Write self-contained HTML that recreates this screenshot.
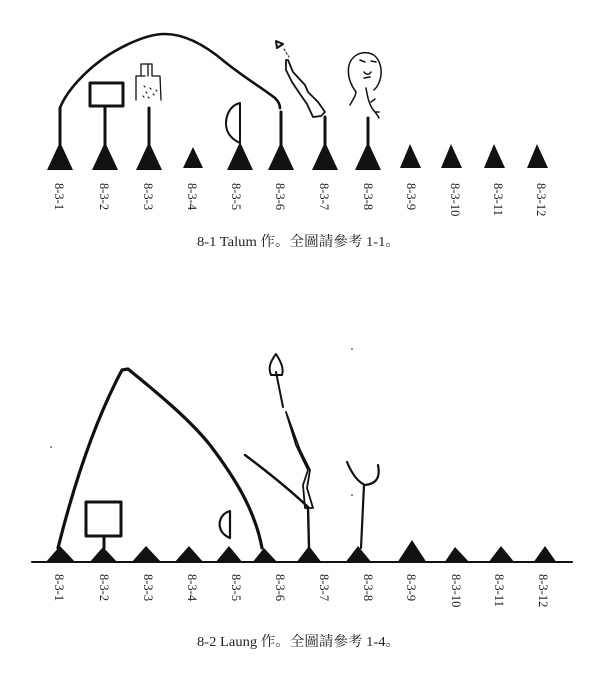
<!DOCTYPE html>
<html><head><meta charset="utf-8"><style>
html,body{margin:0;padding:0;background:#fff;}
svg{display:block;}
text{font-family:"Liberation Serif","Noto Serif CJK SC",serif;fill:#222;}
</style></head><body>
<svg width="600" height="684" viewBox="0 0 600 684" xmlns="http://www.w3.org/2000/svg">
<g fill="none" stroke="#111" stroke-linecap="round" stroke-linejoin="round">
 <path d="M60 108 C66 92 85 70 110 54 C130 42 150 34 165 34 C185 34 205 45 225 62 C245 78 262 88 275 98 C279 102 280 105 280 108" stroke-width="2.6"/>
 <path d="M60 108 L60 146 M105 106 L105 146 M149 108 L149 146 M281 112 L281 146 M325 117 L325 146 M368 118 L368 146" stroke-width="3"/>
 <rect x="90" y="83" width="33" height="23" stroke-width="3"/>
 <path d="M136 100 L136 76 L145 76 M141 76 L141 64 L152 64 L152 76 L160 76 L161 100 M148 64 L148 76" stroke-width="1.3"/>
 <g stroke-width="1.2"><path d="M144 86 l1 1 M150 88 l1 1 M146 92 l1 1 M153 94 l1 1 M148 97 l1 1 M156 90 l1 1 M143 96 l1 1"/></g>
 <path d="M240 103 C228 106 224 120 227 130 C230 138 236 141 240 143 Z" stroke-width="2"/>
 <path d="M276 41 L283 44 L277 48 Z" stroke-width="2"/>
 <path d="M284 49 L289 57" stroke-width="1" stroke-dasharray="2 2"/>
 <path d="M288 60 L293 72 L305 85 L308 92 L318 102 L325 112 L321 116 L313 117 L307 104 L300 94 L292 82 L286 70 L286 60 Z" stroke-width="1.8"/>
 <path d="M356 92 C350 84 347 75 349 65 C352 55 362 50 372 54 C380 58 383 70 380 80 C378 86 376 88 374 90 M356 92 L355 96 L350 105 M360 60 l5 2 M371 61 l5 1 M364 72 c2 3 5 3 7 0 M364 78 l6 -1" stroke-width="1.5"/>
 <path d="M366 88 C367 94 368 100 370 104 C372 110 376 112 379 118 M371 102 l4 -3 M375 112 l4 0" stroke-width="1.5"/>

 <path d="M32 562 L572 562" stroke-width="2"/>
 <path d="M58 548 C70 500 90 430 122 370 L128 369 C160 395 190 420 210 445 C235 478 255 510 262 548" stroke-width="3.2"/>
 <rect x="86" y="502" width="35" height="34" stroke-width="3"/>
 <path d="M104 536 L104 548" stroke-width="3"/>
 <path d="M230 511 C220 514 217 524 222 532 C225 536 228 537 230 538 Z" stroke-width="2.2"/>
 <path d="M245 455 C265 470 290 490 308 507 L309 548" stroke-width="2.4"/>
 <path d="M271 375 C268 368 270 362 276 354 C281 362 284 368 282 375 Z M276 372 L283 407" stroke-width="2"/>
 <path d="M286 412 L300 450 L310 470 L307 488 L313 508 L305 508 L303 485 L308 470 L296 445 Z" stroke-width="1.8"/>
 <path d="M347 462 C352 474 358 482 365 485 C374 484 381 480 378 465 M364 485 L361 548" stroke-width="2.2"/>
</g>
<g fill="#111">
 <path d="M47 170 L60 142 L73 170 Z"/>
 <path d="M92 170 L105 142 L118 170 Z"/>
 <path d="M136 170 L149 142 L162 170 Z"/>
 <path d="M183 168 L193 147 L203 168 Z"/>
 <path d="M227 170 L240 142 L253 170 Z"/>
 <path d="M268 170 L281 142 L294 170 Z"/>
 <path d="M312 170 L325 142 L338 170 Z"/>
 <path d="M355 170 L368 142 L381 170 Z"/>
 <path d="M400 168 L410 144 L421 168 Z"/>
 <path d="M441 168 L451 144 L462 168 Z"/>
 <path d="M484 168 L494 144 L505 168 Z"/>
 <path d="M527 168 L537 144 L548 168 Z"/>
 <path d="M45 563 L60 546 L76 563 Z"/>
 <path d="M89 563 L103 547 L118 563 Z"/>
 <path d="M131 563 L146 546 L162 563 Z"/>
 <path d="M174 563 L189 546 L204 563 Z"/>
 <path d="M215 563 L229 546 L243 563 Z"/>
 <path d="M252 563 L264 548 L278 563 Z"/>
 <path d="M296 563 L309 546 L322 563 Z"/>
 <path d="M345 563 L358 546 L372 563 Z"/>
 <path d="M397 563 L412 540 L427 563 Z"/>
 <path d="M444 563 L455 547 L470 563 Z"/>
 <path d="M488 563 L501 546 L515 563 Z"/>
 <path d="M533 563 L545 546 L557 563 Z"/>
 <circle cx="352" cy="349" r="0.8"/><circle cx="51" cy="447" r="0.8"/><circle cx="352" cy="495" r="0.8"/>
</g>
<g font-size="12.5">
 <text transform="translate(55,183) rotate(90)">8-3-1</text>
 <text transform="translate(100,183) rotate(90)">8-3-2</text>
 <text transform="translate(144,183) rotate(90)">8-3-3</text>
 <text transform="translate(188,183) rotate(90)">8-3-4</text>
 <text transform="translate(232,183) rotate(90)">8-3-5</text>
 <text transform="translate(276,183) rotate(90)">8-3-6</text>
 <text transform="translate(320,183) rotate(90)">8-3-7</text>
 <text transform="translate(364,183) rotate(90)">8-3-8</text>
 <text transform="translate(407,183) rotate(90)">8-3-9</text>
 <text transform="translate(451,183) rotate(90)">8-3-10</text>
 <text transform="translate(494,183) rotate(90)">8-3-11</text>
 <text transform="translate(537,183) rotate(90)">8-3-12</text>

 <text transform="translate(55,574) rotate(90)">8-3-1</text>
 <text transform="translate(100,574) rotate(90)">8-3-2</text>
 <text transform="translate(144,574) rotate(90)">8-3-3</text>
 <text transform="translate(188,574) rotate(90)">8-3-4</text>
 <text transform="translate(232,574) rotate(90)">8-3-5</text>
 <text transform="translate(276,574) rotate(90)">8-3-6</text>
 <text transform="translate(320,574) rotate(90)">8-3-7</text>
 <text transform="translate(364,574) rotate(90)">8-3-8</text>
 <text transform="translate(407,574) rotate(90)">8-3-9</text>
 <text transform="translate(452,574) rotate(90)">8-3-10</text>
 <text transform="translate(495,574) rotate(90)">8-3-11</text>
 <text transform="translate(539,574) rotate(90)">8-3-12</text>
</g>
<text x="197" y="246" font-size="14" textLength="203" lengthAdjust="spacingAndGlyphs">8-1  Talum 作。全圖請參考 1-1。</text>
<text x="197" y="646" font-size="14" textLength="203" lengthAdjust="spacingAndGlyphs">8-2  Laung 作。全圖請參考 1-4。</text>
</svg>
</body></html>
